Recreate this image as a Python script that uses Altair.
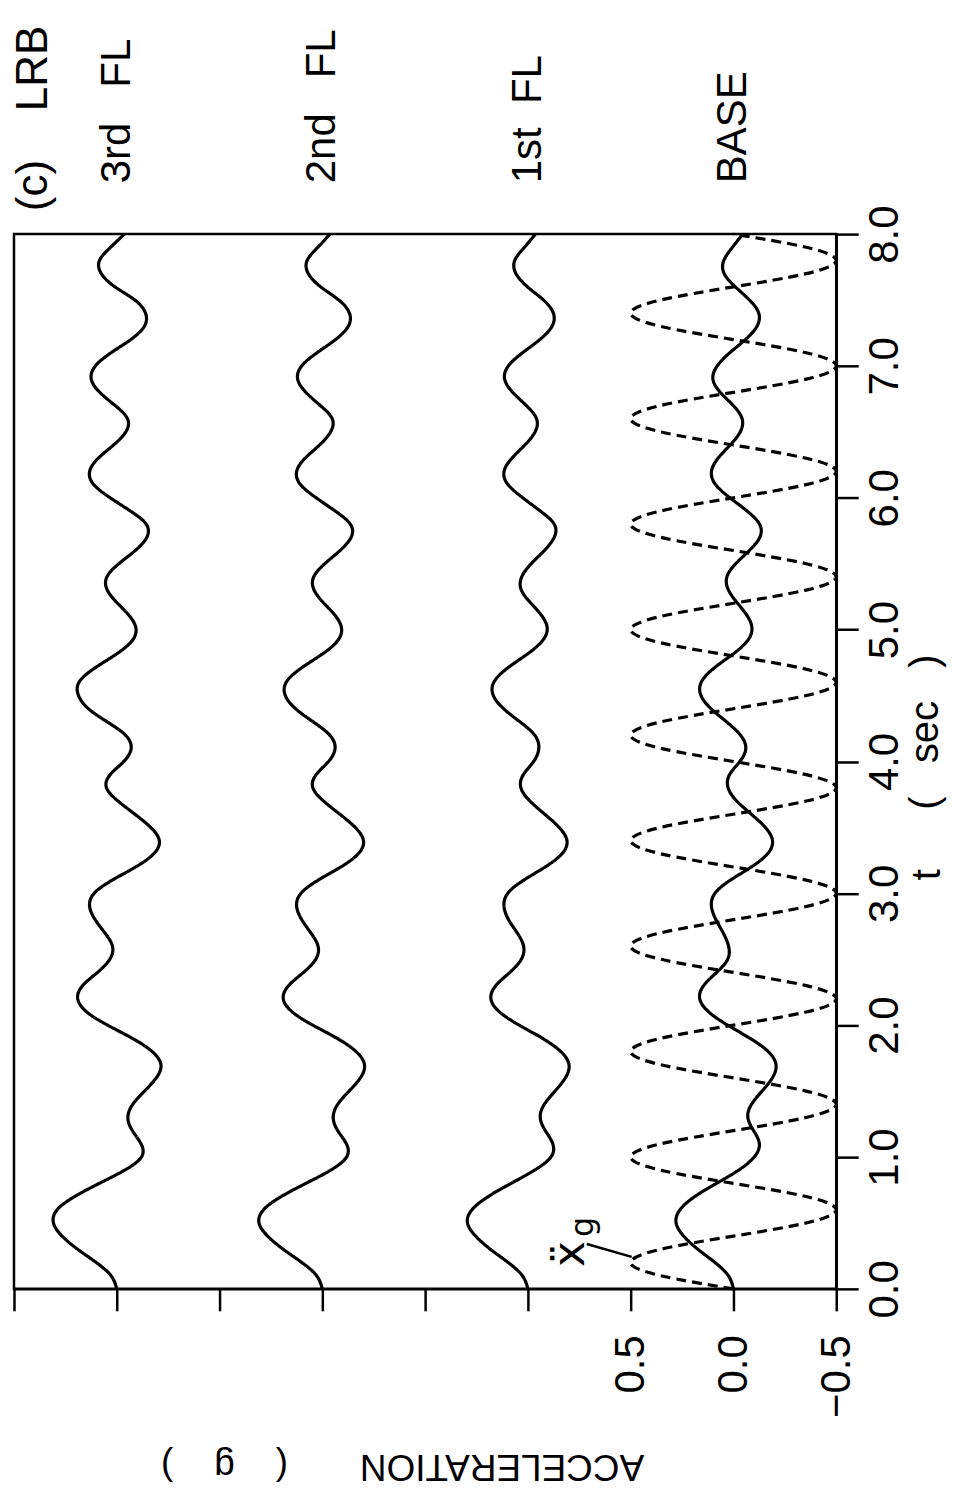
import altair as alt
import pandas as pd

FONT = "Liberation Sans, Arial, sans-serif"
SP = "\u00a0"

# time grid (sec)
T = [round(i * 0.1, 1) for i in range(81)]

# accelerations (g), relative to each trace's own zero line
BASE = [0.0, 0.025, 0.09, 0.173, 0.242, 0.279, 0.26, 0.188, 0.083, -0.025,
        -0.101, -0.126, -0.098, -0.07, -0.088, -0.139, -0.189, -0.207, -0.169, -0.081,
        0.028, 0.12, 0.164, 0.145, 0.082, 0.028, 0.024, 0.05, 0.085, 0.107,
        0.09, 0.015, -0.087, -0.166, -0.19, -0.155, -0.087, -0.016, 0.026, 0.019,
        -0.031, -0.06, -0.034, 0.033, 0.109, 0.158, 0.157, 0.101, 0.015, -0.06,
        -0.09, -0.069, -0.02, 0.024, 0.032, -0.011, -0.077, -0.128, -0.127, -0.066,
        0.017, 0.087, 0.107, 0.075, 0.016, -0.033, -0.042, 0.001, 0.064, 0.10,
        0.079, 0.018, -0.058, -0.114, -0.123, -0.078, -0.009, 0.045, 0.047, 0.005,
        -0.045]

FL1 = [0.0, 0.027, 0.096, 0.182, 0.254, 0.294, 0.272, 0.193, 0.082, -0.032,
       -0.112, -0.121, -0.085, -0.06, -0.08, -0.132, -0.182, -0.2, -0.16, -0.071,
       0.042, 0.138, 0.18, 0.156, 0.088, 0.032, 0.021, 0.052, 0.094, 0.116,
       0.098, 0.02, -0.084, -0.166, -0.19, -0.152, -0.082, -0.01, 0.034, 0.022,
       -0.028, -0.053, -0.033, 0.038, 0.118, 0.168, 0.166, 0.106, 0.016, -0.062,
       -0.094, -0.07, -0.015, 0.032, 0.03, -0.016, -0.08, -0.128, -0.128, -0.06,
       0.025, 0.097, 0.116, 0.078, 0.015, -0.035, -0.042, 0.008, 0.074, 0.113,
       0.095, 0.026, -0.058, -0.117, -0.124, -0.076, 0.002, 0.058, 0.064, 0.017,
       -0.037]

FL2 = [0.0, 0.028, 0.1, 0.19, 0.266, 0.308, 0.286, 0.2, 0.08, -0.04,
       -0.118, -0.117, -0.075, -0.053, -0.075, -0.13, -0.185, -0.205, -0.164, -0.072,
       0.046, 0.146, 0.19, 0.164, 0.092, 0.032, 0.021, 0.056, 0.1, 0.125,
       0.104, 0.02, -0.09, -0.175, -0.2, -0.16, -0.085, -0.006, 0.046, 0.03,
       -0.03, -0.062, -0.036, 0.044, 0.13, 0.18, 0.176, 0.11, 0.014, -0.066,
       -0.094, -0.066, -0.008, 0.04, 0.042, -0.012, -0.086, -0.14, -0.136, -0.062,
       0.03, 0.106, 0.125, 0.084, 0.014, -0.04, -0.048, 0.01, 0.08, 0.12,
       0.1, 0.026, -0.064, -0.126, -0.132, -0.08, 0.008, 0.068, 0.074, 0.022,
       -0.037]

FL3 = [0.0, 0.028, 0.1, 0.19, 0.266, 0.308, 0.29, 0.205, 0.085, -0.038,
       -0.12, -0.118, -0.076, -0.054, -0.078, -0.135, -0.192, -0.215, -0.172, -0.076,
       0.045, 0.146, 0.19, 0.166, 0.094, 0.034, 0.021, 0.058, 0.105, 0.132,
       0.11, 0.022, -0.092, -0.18, -0.207, -0.165, -0.088, -0.006, 0.05, 0.032,
       -0.034, -0.07, -0.042, 0.046, 0.138, 0.186, 0.184, 0.115, 0.016, -0.066,
       -0.094, -0.064, -0.004, 0.046, 0.048, -0.01, -0.09, -0.146, -0.143, -0.066,
       0.032, 0.112, 0.132, 0.09, 0.016, -0.044, -0.052, 0.008, 0.083, 0.124,
       0.104, 0.028, -0.068, -0.134, -0.14, -0.088, 0.009, 0.075, 0.084, 0.03,
       -0.037]

# ground acceleration (dashed)
XG = [0.0, 0.354, 0.5, 0.354, 0.0, -0.354, -0.5, -0.354,
      0.0, 0.354, 0.5, 0.354, 0.0, -0.354, -0.5, -0.354,
      0.0, 0.354, 0.5, 0.354, 0.0, -0.354, -0.5, -0.354,
      0.0, 0.354, 0.5, 0.354, 0.0, -0.354, -0.5, -0.354,
      0.0, 0.354, 0.5, 0.354, 0.0, -0.354, -0.5, -0.354,
      0.0, 0.354, 0.5, 0.354, 0.0, -0.354, -0.5, -0.354,
      0.0, 0.354, 0.5, 0.354, 0.0, -0.354, -0.5, -0.354,
      0.0, 0.354, 0.5, 0.354, 0.0, -0.354, -0.5, -0.354,
      0.0, 0.354, 0.5, 0.354, 0.0, -0.354, -0.5, -0.354,
      0.0, 0.354, 0.5, 0.354, 0.0, -0.354, -0.5, -0.354,
      0.0]

SERIES = ["BASE", "1st FL", "2nd FL", "3rd FL"]
LABELS = ["BASE", "1st" + SP * 2 + "FL", "2nd" + SP * 3 + "FL", "3rd" + SP * 3 + "FL"]
OFFSETS = [0.0, 1.0, 2.0, 3.0]
VALUES = [BASE, FL1, FL2, FL3]

X_TICKS = [-0.5, 0.0, 0.5, 1.0, 1.5, 2.0, 2.5, 3.0, 3.5]
T_TICKS = [0, 1, 2, 3, 4, 5, 6, 7, 8]

rows = []
for name, off, vals in zip(SERIES, OFFSETS, VALUES):
    for t, v in zip(T, vals):
        rows.append({"t": t, "g": v + off, "series": name, "kind": "floor"})
for t, v in zip(T, XG):
    rows.append({"t": t, "g": v, "series": "XG", "kind": "ground"})
df = pd.DataFrame(rows)
lab_df = pd.DataFrame({"series": LABELS, "pos": OFFSETS})

W, H = 824, 1057
xscale = alt.Scale(domain=[-0.5, 3.5], reverse=True, nice=False, zero=False)
yscale = alt.Scale(domain=[0, 8], nice=False, zero=False)

xaxis = alt.Axis(
    values=X_TICKS, orient="bottom", title=None,
    labelExpr="datum.value <= 0.5 ? format(datum.value, '.1f') : ''",
    labelAngle=270, labelAlign="right", labelBaseline="middle", labelPadding=24,
)
yaxis = alt.Axis(
    values=T_TICKS, orient="right", title=None, format=".1f",
    labelAngle=270, labelAlign="center", labelBaseline="top", labelPadding=6,
)

lines = alt.Chart(df).mark_line(
    color="black", strokeWidth=3.2, interpolate="natural"
).encode(
    x=alt.X("g:Q", scale=xscale, axis=xaxis),
    y=alt.Y("t:Q", scale=yscale, axis=yaxis),
    detail="series:N",
    order="t:Q",
    strokeDash=alt.StrokeDash(
        "kind:N",
        scale=alt.Scale(domain=["floor", "ground"], range=[[1, 0], [10, 6]]),
        legend=None,
    ),
)

floor_labels = alt.Chart(lab_df).mark_text(
    angle=270, align="left", baseline="middle", font=FONT, fontSize=42, color="black"
).encode(
    x=alt.X("pos:Q", scale=xscale, axis=xaxis),
    y=alt.value(-51),
    text="series:N",
)

def txt(s, x, y, size=40, angle=270, align="center", font=FONT):
    return alt.Chart(pd.DataFrame({"s": [s]})).mark_text(
        angle=angle, align=align, baseline="middle", font=font, fontSize=size, color="black"
    ).encode(x=alt.value(x), y=alt.value(y), text="s:N")

title_c = txt("(c)" + SP * 4 + "LRB", 20, -23, size=44, align="left")
t_lab = txt("t", 916, 642)
sec_lab = txt("(" + SP * 3 + "sec" + SP * 3 + ")", 914, 499)
acc_lab = txt("ACCELERATION", 489, 1234, size=37, angle=180)
g_lab = txt("(" + SP * 4 + "g" + SP * 4 + ")", 211, 1234, size=37, angle=180)
xdd = txt("\u1e8d", 558, 1022, size=44, font="DejaVu Sans")
gsub = txt("g", 570, 995, size=32, font="DejaVu Sans")

leader = alt.Chart(pd.DataFrame({"a": [0]})).mark_rule(color="black", strokeWidth=2.5).encode(
    x=alt.value(574), x2=alt.value(619), y=alt.value(1012), y2=alt.value(1025)
)

chart = alt.layer(
    lines, floor_labels, title_c, t_lab, sec_lab, acc_lab, g_lab, xdd, gsub, leader
).properties(
    width=W, height=H,
    autosize=alt.AutoSizeParams(type="none"),
    padding={"left": 6, "top": 225, "right": 112, "bottom": 203},
    background="white",
).configure_view(
    stroke="black", strokeWidth=2.5
).configure_axis(
    grid=False,
    labelFont=FONT, labelFontSize=42, labelColor="black",
    tickSize=22, tickWidth=2.5, tickColor="black",
    domainWidth=2.5, domainColor="black",
)

chart.save("out.html", embed_options={"renderer": "svg", "actions": False})
